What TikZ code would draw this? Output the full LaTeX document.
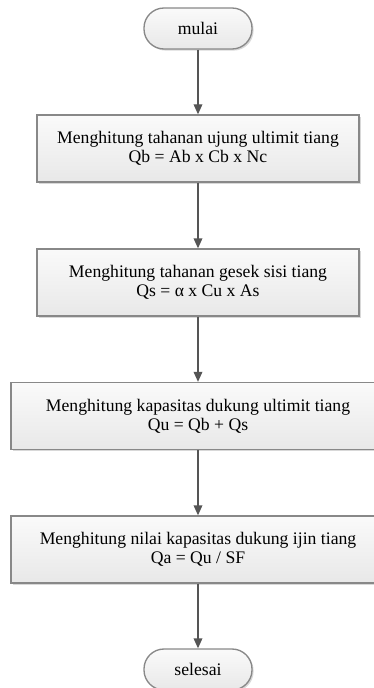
\documentclass[tikz,border=0pt]{standalone}
\usepackage{fontspec}
\setmainfont{Liberation Serif}
\usetikzlibrary{arrows.meta,shadows}
\definecolor{garis}{HTML}{888888}
\definecolor{panahwarna}{HTML}{555555}

\tikzset{
  proses/.style={draw=garis, line width=1pt, top color=white!98!black,
    bottom color=black!9, align=center, inner sep=0pt,
    font=\fontsize{13.25}{14.5}\selectfont,
    drop shadow={shadow xshift=1.2pt, shadow yshift=-1.2pt, fill=black!30, opacity=0.5}},
  terminal/.style={proses, rounded corners=15pt, minimum width=81pt, minimum height=30.75pt},
  panah/.style={draw=panahwarna, line width=1pt, -{Triangle[length=7.5pt,width=6.5pt]}}
}

\begin{document}
\begin{tikzpicture}[x=0.75pt, y=-0.75pt]
    % frame of the picture (pixel units)
    \useasboundingbox (0,0) rectangle (374,688);

    % widths of the boxes
    \def\sempit{241.5pt}
    \def\lebar{280.5pt}
    \def\tinggi{50.25pt}

    % start and end
    \node[terminal] (mulai) at (198, 28.5) {mulai};
    \node[terminal] (selesai) at (198, 669.5) {selesai};

    % the four steps
    \node[proses, minimum width=\sempit, minimum height=\tinggi] (ujung) at (198, 148.5)
        {Menghitung tahanan ujung ultimit tiang\\Qb = Ab x Cb x Nc};
    \node[proses, minimum width=\sempit, minimum height=\tinggi] (gesek) at (198, 282.5)
        {Menghitung tahanan gesek sisi tiang\\Qs = α x Cu x As};
    \node[proses, minimum width=\lebar, minimum height=\tinggi] (ultimit) at (198, 416)
        {Menghitung kapasitas dukung ultimit tiang\\Qu = Qb + Qs};
    \node[proses, minimum width=\lebar, minimum height=\tinggi] (ijin) at (198, 549.5)
        {Menghitung nilai kapasitas dukung ijin tiang\\Qa = Qu / SF};

    % arrows
    \draw[panah] (mulai) -- (ujung);
    \draw[panah] (ujung) -- (gesek);
    \draw[panah] (gesek) -- (ultimit);
    \draw[panah] (ultimit) -- (ijin);
    \draw[panah] (ijin) -- (selesai);
\end{tikzpicture}
\end{document}
